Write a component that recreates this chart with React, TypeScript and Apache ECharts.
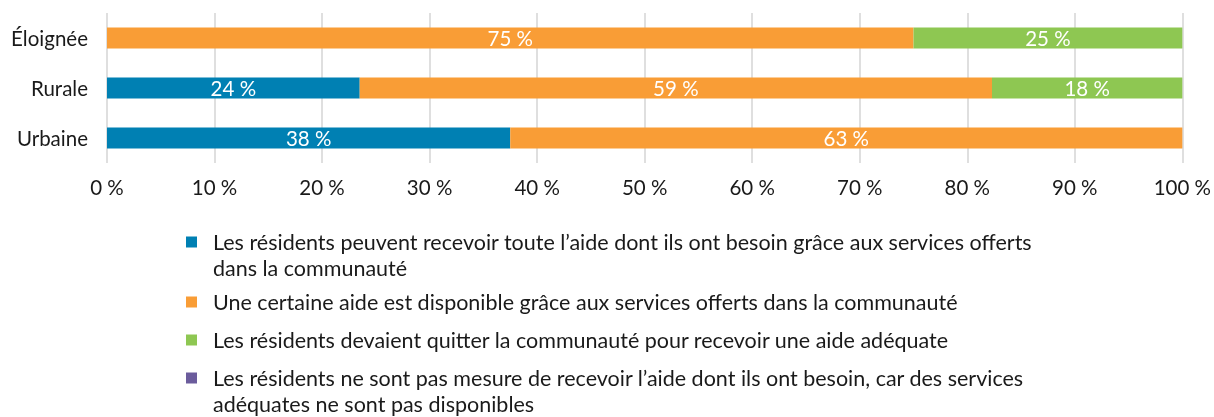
import React, { useEffect, useRef } from "react";
import * as echarts from "echarts";

const categories = ["Urbaine", "Rurale", "Éloignée"];
const seriesNames = [
  "Les résidents peuvent recevoir toute l’aide dont ils ont besoin grâce aux services offerts\ndans la communauté",
  "Une certaine aide est disponible grâce aux services offerts dans la communauté",
  "Les résidents devaient quitter la communauté pour recevoir une aide adéquate",
  "Les résidents ne sont pas mesure de recevoir l’aide dont ils ont besoin, car des services\nadéquates ne sont pas disponibles",
];
const seriesColors = ["#0080B3", "#F99D36", "#8EC752", "#6B5C9C"];
// order: Urbaine, Rurale, Éloignée
const pleinement = [37.5, 23.5, 0];
const certaine = [62.5, 58.8, 75];
const quitter = [0, 17.7, 25];
const aucune = [0, 0, 0];
const seriesValues = [pleinement, certaine, quitter, aucune];
const xTicks = { min: 0, max: 100, interval: 10 };

const FONT = "Lato, 'Open Sans', sans-serif";
const TEXT = "#1a1a1a";

export default function App() {
  const ref = useRef<HTMLDivElement>(null);
  useEffect(() => {
    if (!ref.current) return;
    const chart = echarts.init(ref.current, null, { renderer: "svg" });
    const legendTops = [229, 289, 327, 365];
    const graphic: any[] = [];
    seriesNames.forEach((n, i) => {
      graphic.push({
        type: "rect",
        left: 186,
        top: legendTops[i] + 7.5,
        shape: { width: 11, height: 11 },
        style: { fill: seriesColors[i] },
      });
      graphic.push({
        type: "text",
        left: 213,
        top: legendTops[i],
        style: {
          text: n,
          font: `21.5px ${FONT}`,
          fill: TEXT,
          lineHeight: 26,
        },
      });
    });
    chart.setOption({
      animation: false,
      textStyle: { fontFamily: FONT },
      grid: { left: 107, right: 31, top: 13, height: 150, containLabel: false },
      xAxis: {
        type: "value",
        min: xTicks.min,
        max: xTicks.max,
        interval: xTicks.interval,
        axisLine: { show: false },
        axisTick: { show: false },
        splitLine: { show: true, lineStyle: { color: "#d4d4d4", width: 1.5 } },
        axisLabel: {
          formatter: "{value} %",
          fontSize: 20.5,
          color: TEXT,
          margin: 13,
          fontFamily: FONT,
        },
      },
      yAxis: {
        type: "category",
        data: categories,
        axisLine: { show: false },
        axisTick: { show: false },
        axisLabel: { fontSize: 20.5, color: TEXT, margin: 19, fontFamily: FONT },
      },
      series: seriesNames.map((n, i) => ({
        name: n.replace("\n", " "),
        type: "bar",
        stack: "total",
        barWidth: 21,
        itemStyle: { color: seriesColors[i] },
        label: {
          show: true,
          position: "inside",
          color: "#ffffff",
          fontSize: 20.5,
          fontWeight: "normal",
          fontFamily: FONT,
          formatter: (p: any) => (p.value > 0 ? `${Math.round(p.value)} %` : ""),
        },
        data: seriesValues[i],
      })),
      graphic,
    });
    return () => chart.dispose();
  }, []);
  return (
    <div
      ref={ref}
      style={{ position: "fixed", left: 0, top: 0, width: 1214, height: 417 }}
    />
  );
}
